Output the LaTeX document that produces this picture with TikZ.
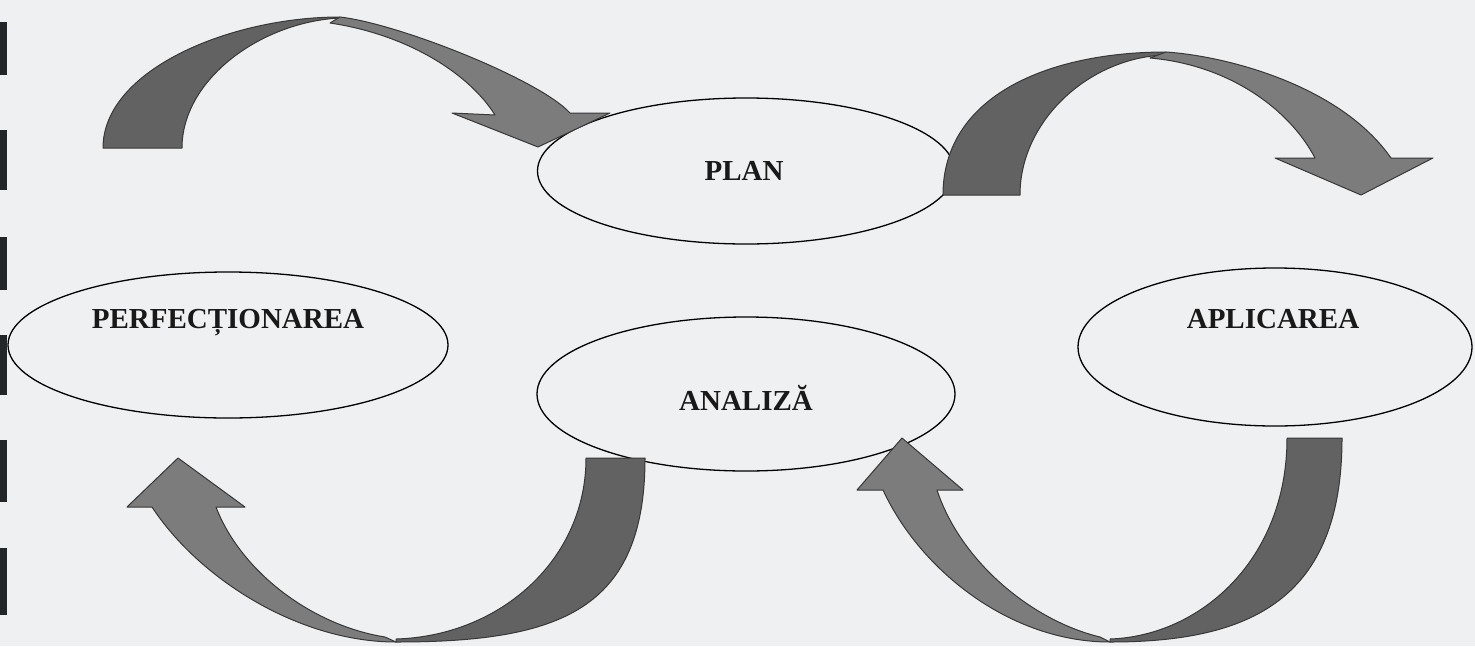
\documentclass[tikz,border=0pt]{standalone}
\usepackage{fontspec}
\setmainfont{Liberation Serif}
\usetikzlibrary{shapes.geometric}
\definecolor{paper}{RGB}{239,240,242}
\definecolor{banddark}{RGB}{98,98,98}
\definecolor{bandlight}{RGB}{124,124,124}
\definecolor{edge}{RGB}{55,55,55}
\definecolor{mark}{RGB}{35,38,40}
\tikzset{
  oval/.style={ellipse, draw=black, line width=1.3pt, fill=paper, inner sep=0pt},
  lbl/.style={font=\fontsize{29}{34}\selectfont\bfseries, text=black!90, anchor=base, inner sep=0pt},
  darkband/.style={fill=banddark, draw=edge, line width=1pt, line join=round},
  lightband/.style={fill=bandlight, draw=edge, line width=1pt, line join=round},
  binder/.style={fill=mark, draw=none}
}
\begin{document}
\begin{tikzpicture}[x=1pt,y=-1pt]
\fill[paper] (0,0) rectangle (1475,646);
\useasboundingbox (0,0) rectangle (1475,646);
% binder marks on the left edge
\foreach \a/\b in {22/75,130/190,237/290,335/395,440/502,548/615}
  \fill[binder] (0,\a) rectangle (7,\b);

% ellipses
\node[oval, minimum width=417pt, minimum height=146pt] (plan) at (746,171) {};
\node[oval, minimum width=440pt, minimum height=146pt] (perf) at (228,345) {};
\node[oval, minimum width=418pt, minimum height=154pt] (anal) at (746,394) {};
\node[oval, minimum width=394pt, minimum height=158pt] (apli) at (1275,347) {};

% labels
\node[lbl] (tplan) at (744,180) {PLAN};
\node[lbl] (tperf) at (228,328) {PERFECȚIONAREA};
\node[lbl] (tanal) at (746,410) {ANALIZĂ};
\node[lbl] (tapli) at (1273,328) {APLICAREA};

% arrow 1 (top left)
\draw[darkband] (103,148) .. controls (103,70) and (230,17) .. (340,17)
  -- (340,18) .. controls (260,22) and (182,80) .. (182,148) -- cycle;
\draw[lightband] (340,17) .. controls (400,24) and (540,80) .. (570,113)
  -- (610,113) -- (538,147) -- (452,113) -- (495,115)
  .. controls (470,75) and (410,35) .. (330,23) -- cycle;

% arrow 2 (top right)
\draw[darkband] (943,195) .. controls (943,95) and (1050,52) .. (1166,52)
  -- (1166,55) .. controls (1090,57) and (1020,120) .. (1020,195) -- cycle;
\draw[lightband] (1166,52) .. controls (1226,56) and (1340,85) .. (1391,158)
  -- (1433,158) -- (1361,195) -- (1275,158) -- (1315,158)
  .. controls (1290,110) and (1230,65) .. (1150,58) -- cycle;

% arrow 3 (bottom left)
\draw[darkband] (645,458) .. controls (645,610) and (560,642) .. (396,642)
  -- (396,639) .. controls (500,636) and (586,560) .. (586,458) -- cycle;
\draw[lightband] (396,642) .. controls (300,642) and (200,580) .. (152,507)
  -- (127,507) -- (178,458) -- (245,507) -- (216,507)
  .. controls (240,570) and (310,625) .. (385,637) -- cycle;

% arrow 4 (bottom right)
\draw[darkband] (1342,438) .. controls (1342,600) and (1250,642) .. (1110,642)
  -- (1110,639) .. controls (1200,636) and (1287,560) .. (1287,438) -- cycle;
\draw[lightband] (1110,642) .. controls (1010,642) and (920,570) .. (883,490)
  -- (857,490) -- (902,438) -- (963,490) -- (937,490)
  .. controls (960,560) and (1030,620) .. (1100,637) -- cycle;
\end{tikzpicture}
\end{document}
